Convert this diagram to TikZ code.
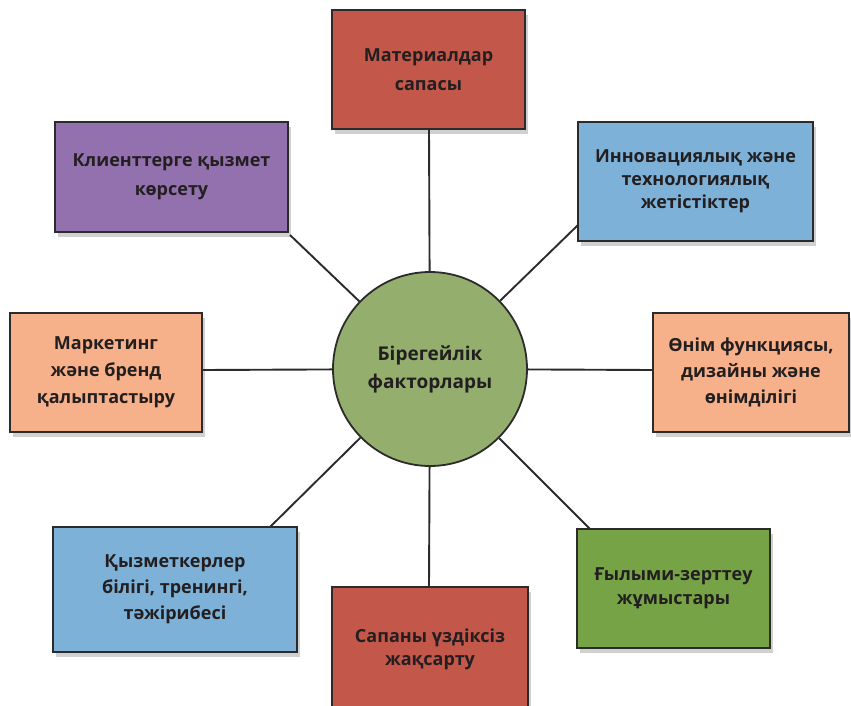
\documentclass[tikz,border=0pt]{standalone}
\usepackage{fontspec}
\setmainfont{Open Sans}
\usetikzlibrary{shadows}
\definecolor{boxred}{HTML}{C2574A}
\definecolor{boxpurple}{HTML}{9371AE}
\definecolor{boxblue}{HTML}{7EB1D8}
\definecolor{boxpeach}{HTML}{F6B08A}
\definecolor{boxgreen}{HTML}{77A347}
\definecolor{circgreen}{HTML}{94AE6E}
\definecolor{edgegray}{HTML}{2B2B2B}
\definecolor{txt}{HTML}{231F20}
\begin{document}
\begin{tikzpicture}[x=1pt,y=-1pt,
  factor/.style={draw=edgegray, line width=2.3pt, rectangle, align=center,
    text=txt, font=\fontsize{18}{25}\selectfont\bfseries, inner sep=0pt,
    drop shadow={shadow xshift=3pt, shadow yshift=-5pt, opacity=0.3, fill=black!60}},
  hub/.style={draw=edgegray, line width=1.8pt, circle, fill=circgreen, minimum size=194pt,
    align=center, text=txt, font=\fontsize{19}{28}\selectfont\bfseries, inner sep=0pt},
  link/.style={draw=edgegray, line width=1.9pt}]
\clip (0,0) rectangle (851,705);
\fill[white] (0,0) rectangle (851,705);
% hub
\node[hub] (c) at (430,369) {Бірегейлік\\факторлары};
% boxes
\node[factor, fill=boxred, minimum width=193pt, minimum height=119pt,
  font=\fontsize{18}{29}\selectfont\bfseries] (mat) at (428.5,69.5)
  {Материалдар\\сапасы};
\node[factor, fill=boxblue, minimum width=235pt, minimum height=119pt,
  font=\fontsize{18}{23}\selectfont\bfseries] (inn) at (695.5,181.5)
  {Инновациялық және\\технологиялық\\жетістіктер};
\node[factor, fill=boxpurple, minimum width=233pt, minimum height=110pt,
  font=\fontsize{18}{29}\selectfont\bfseries] (cli) at (171.5,177)
  {Клиенттерге қызмет\\көрсету};
\node[factor, fill=boxpeach, minimum width=192pt, minimum height=119pt,
  font=\fontsize{18}{27}\selectfont\bfseries] (mar) at (106,372.5)
  {Маркетинг\\және бренд\\қалыптастыру};
\node[factor, fill=boxpeach, minimum width=196pt, minimum height=119pt,
  font=\fontsize{18}{26}\selectfont\bfseries] (oni) at (751,372.5)
  {Өнім функциясы,\\дизайны және\\өнімділігі};
\node[factor, fill=boxblue, minimum width=244pt, minimum height=125pt,
  font=\fontsize{18}{26}\selectfont\bfseries] (sta) at (175,589.5)
  {Қызметкерлер\\білігі, тренингі,\\тәжірибесі};
\node[factor, fill=boxred, minimum width=196pt, minimum height=124pt,
  font=\fontsize{18}{23}\selectfont\bfseries] (sap) at (430,649)
  {Сапаны үздіксіз\\жақсарту};
\node[factor, fill=boxgreen, minimum width=193pt, minimum height=119pt,
  font=\fontsize{18}{24}\selectfont\bfseries] (gyl) at (673.5,588.5)
  {Ғылыми-зерттеу\\жұмыстары};
% connector end points
\coordinate (pinn) at (578,225);
\coordinate (pcli) at (290,235);
\coordinate (psta) at (270,527);
\coordinate (pgyl) at (590,529);
\coordinate (pmat) at (429,129);
\coordinate (psap) at (429,587);
\coordinate (pmar) at (202,370);
\coordinate (poni) at (653,370);
% connectors
\draw[link] (c) -- (pmat);
\draw[link] (c) -- (psap);
\draw[link] (c) -- (pmar);
\draw[link] (c) -- (poni);
\draw[link] (c) -- (pinn);
\draw[link] (c) -- (pcli);
\draw[link] (c) -- (psta);
\draw[link] (c) -- (pgyl);
\end{tikzpicture}
\end{document}
